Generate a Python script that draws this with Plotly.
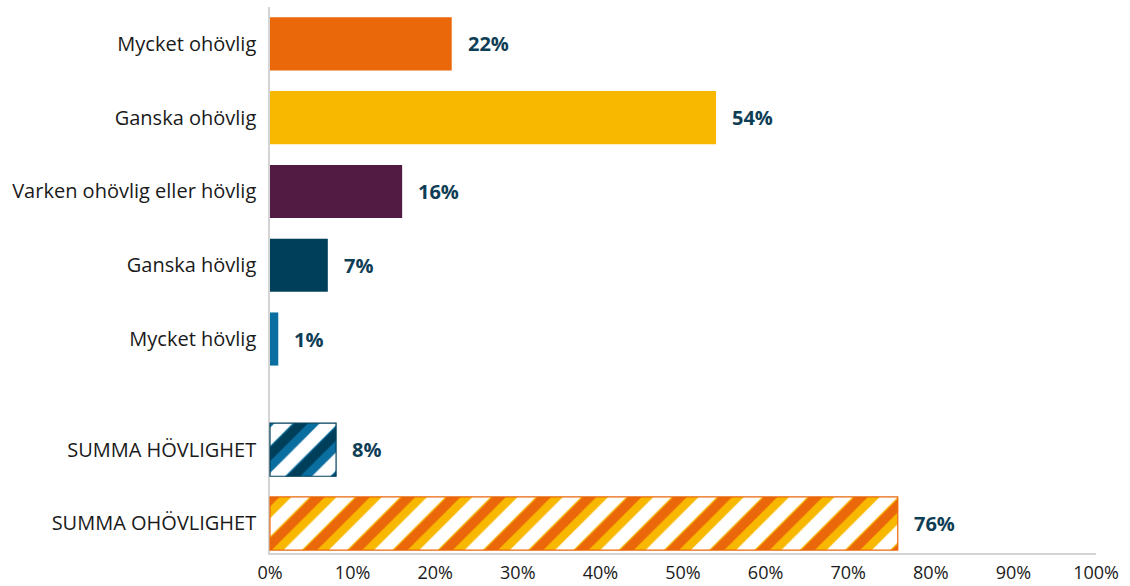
import plotly.graph_objects as go

categories = ["Mycket ohövlig", "Ganska ohövlig", "Varken ohövlig eller hövlig",
              "Ganska hövlig", "Mycket hövlig"]
values = [22, 54, 16, 7, 1]
colors = ["#EA670A", "#F9B800", "#521B44", "#003F5A", "#0A6FA0"]

sum_categories = ["SUMMA HÖVLIGHET", "SUMMA OHÖVLIGHET"]
sum_values = [8, 76]
sum_dark = ["#003F5A", "#EA670A"]
sum_light = ["#0A6FA0", "#F9B800"]

x_ticks = list(range(0, 101, 10))

pos_main = [0, 1, 2, 3, 4]
pos_sum = [5.5, 6.5]

W = 0.72
L = 265            # left margin
PW = 1130 - L - 34 # plot width incl. shift
SHIFT = 5          # px shift of the dark-stripe layer's pattern origin
px_per_unit = (PW - SHIFT) / 100.0

fig = go.Figure()
fig.add_trace(go.Bar(y=pos_main, x=values, orientation="h", width=W,
                     marker=dict(color=colors, line=dict(width=0)),
                     hoverinfo="skip", showlegend=False))
# white base + light stripes
fig.add_trace(go.Bar(y=pos_sum, x=sum_values, orientation="h", width=W,
                     marker=dict(color="white", line=dict(width=0),
                                 pattern=dict(shape="/", fgcolor=sum_light, bgcolor="white",
                                              size=32, solidity=0.6, fillmode="replace")),
                     hoverinfo="skip", showlegend=False))
# dark stripes, drawn on a shifted twin axis so stripes sit on one side
fig.add_trace(go.Bar(y=pos_sum, x=sum_values, orientation="h", width=W,
                     xaxis="x2", yaxis="y",
                     marker=dict(color="rgba(0,0,0,0)", line=dict(color=sum_dark, width=1.2),
                                 pattern=dict(shape="/", fgcolor=sum_dark, bgcolor="rgba(0,0,0,0)",
                                              size=32, solidity=0.3, fillmode="replace")),
                     hoverinfo="skip", showlegend=False))

annotations = []
for p, v in zip(pos_main + pos_sum, values + sum_values):
    annotations.append(dict(x=v, y=p, xref="x", yref="y", text=f"<b>{v}%</b>",
                            showarrow=False, xanchor="left", xshift=14,
                            font=dict(family="Open Sans", size=20, color="#0E3E55")))

fig.update_layout(
    width=1130, height=586,
    margin=dict(l=L, r=34, t=7, b=33, autoexpand=False),
    plot_bgcolor="rgba(0,0,0,0)", paper_bgcolor="white",
    barmode="overlay",
    annotations=annotations,
    font=dict(family="Open Sans", color="#1a1a1a"),
    xaxis=dict(domain=[SHIFT / PW, 1], range=[0, 100], tickvals=x_ticks,
               ticktext=[f"{t}%" for t in x_ticks], automargin=False,
               showgrid=False, zeroline=False, showline=True, linecolor="#d4d4d4",
               linewidth=1.5, ticks="", ticklabelstandoff=3,
               tickfont=dict(size=18, color="#1a1a1a")),
    xaxis2=dict(domain=[0, 1], range=[-SHIFT / px_per_unit, 100], visible=False,
                anchor="y"),
    yaxis=dict(range=[6.9, -0.5], tickvals=pos_main + pos_sum,
               ticktext=categories + sum_categories, automargin=False,
               showgrid=False, zeroline=False, showline=True, linecolor="#d4d4d4",
               linewidth=1.5, ticks="", ticklabelstandoff=8,
               tickfont=dict(size=20, color="#1a1a1a")),
)

fig.write_html("out.html", config={"displayModeBar": False},
               post_script="document.body.style.margin='0';")
